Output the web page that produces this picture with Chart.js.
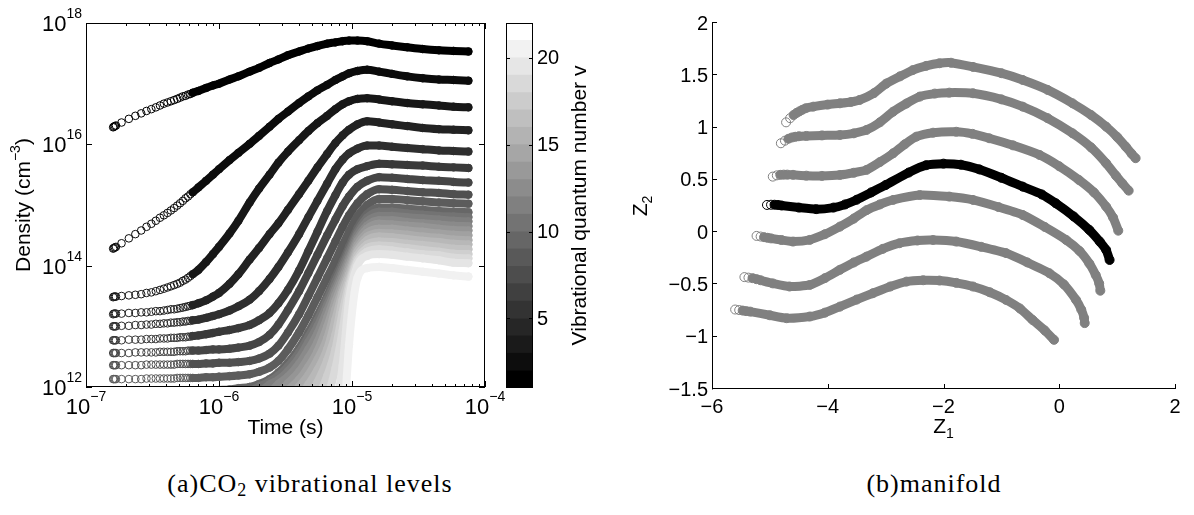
<!DOCTYPE html>
<html>
<head>
<meta charset="utf-8">
<script src="https://cdn.jsdelivr.net/npm/chart.js@4.4.1/dist/chart.umd.min.js"></script>
<style>
  html, body { margin: 0; padding: 0; background: #fff; }
  body { width: 1194px; height: 515px; position: relative; overflow: hidden; }
  canvas { position: absolute; top: 0; }
  .caption { position: absolute; top: 469px; font-family: "Liberation Serif", "DejaVu Serif", serif;
             font-size: 26px; letter-spacing: 1px; color: #000; white-space: nowrap; transform: translateX(-50%); }
  .caption sub { font-size: 18px; vertical-align: -4px; }
</style>
</head>
<body>
<canvas id="levels" width="520" height="450" style="left:0"></canvas>
<canvas id="colorbar" width="105" height="450" style="left:495px"></canvas>
<canvas id="manifold" width="594" height="450" style="left:600px"></canvas>
<div class="caption" style="left:310px">(a)CO<sub>2</sub> vibrational levels</div>
<div class="caption" style="left:934px">(b)manifold</div>
<script>
// ---- (a) CO2 vibrational levels: time grid (s) and densities (cm^-3) per level v ----
const timeS = [1.6e-7, 1.62e-7, 1.65e-7, 1.68e-7, 1.85e-7, 2.1e-7, 2.35e-7, 2.6e-7, 2.85e-7, 3.1e-7,
  3.35e-7, 3.6e-7, 3.85e-7, 4.1e-7, 4.35e-7, 4.6e-7, 4.85e-7, 5.1e-7, 5.35e-7, 5.6e-7,
  5.85e-7, 6.1e-7, 6.35e-7, 7e-7, 8e-7, 9e-7, 1e-6, 1.2e-6, 1.4e-6, 1.7e-6,
  2e-6, 2.4e-6, 2.8e-6, 3.3e-6, 4e-6, 4.7e-6, 5.5e-6, 6.5e-6, 7.5e-6, 8.5e-6,
  9.5e-6, 1.1e-5, 1.3e-5, 1.6e-5, 2e-5, 2.6e-5, 3.4e-5, 4.5e-5, 5.8e-5, 7.5e-5];

// levels that are still below the plotted range at early times
const below = n => Array(n).fill(null);

const v1 = [1.91e16, 1.95e16, 2.0e16, 2.04e16, 2.29e16, 2.63e16, 2.95e16, 3.24e16, 3.55e16, 3.8e16,
  4.07e16, 4.37e16, 4.68e16, 4.9e16, 5.13e16, 5.37e16, 5.62e16, 5.89e16, 6.17e16, 6.31e16,
  6.61e16, 6.76e16, 7.08e16, 7.59e16, 8.51e16, 9.33e16, 1.0e17, 1.17e17, 1.32e17, 1.58e17,
  1.82e17, 2.19e17, 2.51e17, 2.95e17, 3.39e17, 3.8e17, 4.17e17, 4.57e17, 4.79e17, 5.01e17,
  5.13e17, 5.13e17, 5.01e17, 4.57e17, 4.27e17, 3.98e17, 3.72e17, 3.55e17, 3.47e17, 3.39e17];
const v2 = [1.91e14, 1.95e14, 2.0e14, 2.04e14, 2.34e14, 2.82e14, 3.31e14, 3.8e14, 4.37e14, 4.9e14,
  5.5e14, 6.17e14, 6.76e14, 7.41e14, 8.13e14, 8.91e14, 9.77e14, 1.07e15, 1.17e15, 1.29e15,
  1.38e15, 1.51e15, 1.62e15, 1.95e15, 2.51e15, 3.16e15, 3.89e15, 5.5e15, 7.24e15, 1.02e16,
  1.38e16, 1.95e16, 2.63e16, 3.47e16, 4.79e16, 6.17e16, 7.76e16, 9.55e16, 1.15e17, 1.32e17,
  1.48e17, 1.62e17, 1.7e17, 1.58e17, 1.45e17, 1.32e17, 1.23e17, 1.17e17, 1.15e17, 1.12e17];
const v3 = [3.02e13, 3.09e13, 3.09e13, 3.09e13, 3.16e13, 3.24e13, 3.31e13, 3.39e13, 3.55e13, 3.63e13,
  3.8e13, 3.98e13, 4.17e13, 4.37e13, 4.57e13, 4.79e13, 5.01e13, 5.25e13, 5.62e13, 5.89e13,
  6.31e13, 6.76e13, 7.24e13, 8.51e13, 1.15e14, 1.55e14, 2.04e14, 3.39e14, 5.5e14, 1.1e15,
  1.86e15, 3.16e15, 5.01e15, 7.59e15, 1.17e16, 1.66e16, 2.24e16, 2.95e16, 3.8e16, 4.57e16,
  5.13e16, 5.62e16, 5.75e16, 5.5e16, 5.13e16, 4.79e16, 4.57e16, 4.37e16, 4.17e16, 4.07e16];
const v4 = [1.58e13, 1.62e13, 1.62e13, 1.62e13, 1.62e13, 1.66e13, 1.66e13, 1.7e13, 1.7e13, 1.74e13,
  1.78e13, 1.78e13, 1.82e13, 1.86e13, 1.91e13, 1.91e13, 1.95e13, 2.0e13, 2.04e13, 2.09e13,
  2.14e13, 2.19e13, 2.24e13, 2.4e13, 2.69e13, 3.09e13, 3.55e13, 5.01e13, 7.24e13, 1.26e14,
  1.95e14, 3.31e14, 5.01e14, 8.32e14, 1.51e15, 2.51e15, 4.17e15, 6.92e15, 1.05e16, 1.41e16,
  1.74e16, 2.14e16, 2.4e16, 2.29e16, 2.14e16, 2.0e16, 1.86e16, 1.78e16, 1.74e16, 1.7e16];
const v5 = [1.0e13, 1.0e13, 1.0e13, 1.0e13, 1.02e13, 1.02e13, 1.05e13, 1.05e13, 1.07e13, 1.07e13,
  1.1e13, 1.1e13, 1.12e13, 1.12e13, 1.15e13, 1.15e13, 1.17e13, 1.17e13, 1.2e13, 1.2e13,
  1.23e13, 1.23e13, 1.26e13, 1.29e13, 1.38e13, 1.48e13, 1.58e13, 1.82e13, 2.14e13, 2.75e13,
  3.8e13, 6.03e13, 9.55e13, 1.66e14, 3.31e14, 6.31e14, 1.17e15, 2.24e15, 3.89e15, 5.62e15,
  7.08e15, 8.51e15, 9.55e15, 9.55e15, 9.12e15, 8.71e15, 8.32e15, 7.94e15, 7.76e15, 7.59e15];
const v6 = [5.89e12, 5.89e12, 5.89e12, 5.89e12, 5.89e12, 6.03e12, 6.03e12, 6.03e12, 6.17e12, 6.17e12,
  6.17e12, 6.31e12, 6.31e12, 6.31e12, 6.46e12, 6.46e12, 6.46e12, 6.61e12, 6.61e12, 6.61e12,
  6.76e12, 6.76e12, 6.92e12, 7.08e12, 7.41e12, 7.76e12, 8.13e12, 8.71e12, 9.33e12, 1.05e13,
  1.26e13, 1.66e13, 2.4e13, 3.98e13, 8.32e13, 1.74e14, 3.63e14, 7.94e14, 1.45e15, 2.34e15,
  3.16e15, 3.89e15, 4.37e15, 4.79e15, 4.68e15, 4.57e15, 4.47e15, 4.27e15, 4.17e15, 4.07e15];
const v7 = [3.63e12, 3.63e12, 3.63e12, 3.63e12, 3.63e12, 3.63e12, 3.72e12, 3.72e12, 3.72e12, 3.72e12,
  3.72e12, 3.8e12, 3.8e12, 3.8e12, 3.8e12, 3.8e12, 3.89e12, 3.89e12, 3.89e12, 3.89e12,
  3.98e12, 3.98e12, 3.98e12, 3.98e12, 4.07e12, 4.17e12, 4.17e12, 4.27e12, 4.47e12, 4.79e12,
  5.5e12, 7.24e12, 1.07e13, 1.86e13, 3.8e13, 7.59e13, 1.51e14, 3.16e14, 5.75e14, 9.55e14,
  1.38e15, 2.0e15, 2.51e15, 2.88e15, 2.82e15, 2.69e15, 2.57e15, 2.51e15, 2.4e15, 2.34e15];
const v8 = [2.29e12, 2.29e12, 2.29e12, 2.29e12, 2.29e12, 2.29e12, 2.29e12, 2.29e12, 2.34e12, 2.34e12,
  2.34e12, 2.34e12, 2.34e12, 2.34e12, 2.34e12, 2.34e12, 2.4e12, 2.4e12, 2.4e12, 2.4e12,
  2.4e12, 2.4e12, 2.4e12, 2.4e12, 2.45e12, 2.45e12, 2.51e12, 2.51e12, 2.57e12, 2.69e12,
  2.95e12, 3.55e12, 4.79e12, 7.94e12, 1.58e13, 3.16e13, 6.31e13, 1.32e14, 2.51e14, 4.37e14,
  6.76e14, 1.07e15, 1.51e15, 1.82e15, 1.78e15, 1.7e15, 1.62e15, 1.58e15, 1.51e15, 1.48e15];
const v9 = [1.35e12, 1.35e12, 1.35e12, 1.35e12, 1.35e12, 1.35e12, 1.35e12, 1.35e12, 1.38e12, 1.38e12,
  1.38e12, 1.38e12, 1.38e12, 1.38e12, 1.38e12, 1.38e12, 1.41e12, 1.41e12, 1.41e12, 1.41e12,
  1.41e12, 1.41e12, 1.41e12, 1.41e12, 1.45e12, 1.45e12, 1.48e12, 1.51e12, 1.55e12, 1.62e12,
  1.78e12, 2.09e12, 2.69e12, 4.17e12, 7.94e12, 1.51e13, 3.02e13, 6.31e13, 1.2e14, 2.19e14,
  3.63e14, 6.61e14, 1.0e15, 1.26e15, 1.26e15, 1.2e15, 1.15e15, 1.1e15, 1.07e15, 1.05e15];
const v10 = [...below(26), 8.91e11, 9.12e11, 9.55e11, 1.0e12, 1.12e12, 1.35e12, 1.74e12, 2.51e12, 4.37e12, 7.94e12,
  1.51e13, 3.16e13, 6.46e13, 1.17e14, 2.04e14, 4.17e14, 7.08e14, 9.12e14, 9.12e14, 8.71e14, 8.32e14, 7.94e14, 7.76e14, 7.59e14];
const v11 = [...below(29), 8.51e11, 1.02e12, 1.23e12, 1.55e12, 2.19e12, 3.72e12, 6.76e12, 1.26e13, 2.75e13, 5.5e13,
  1.02e14, 1.78e14, 3.63e14, 6.17e14, 7.76e14, 7.76e14, 7.24e14, 6.92e14, 6.61e14, 6.46e14, 6.31e14];
const v12 = [...below(30), 7.94e11, 1.1e12, 1.32e12, 1.82e12, 3.02e12, 5.5e12, 1.0e13, 2.24e13, 4.57e13, 8.71e13,
  1.55e14, 3.24e14, 5.37e14, 6.61e14, 6.61e14, 6.31e14, 6.03e14, 5.75e14, 5.5e14, 5.37e14];
const v13 = [...below(31), 7.94e11, 1.12e12, 1.48e12, 2.4e12, 4.17e12, 7.59e12, 1.82e13, 3.89e13, 7.41e13, 1.32e14,
  2.82e14, 4.57e14, 5.62e14, 5.62e14, 5.25e14, 5.01e14, 4.79e14, 4.57e14, 4.47e14];
const v14 = [...below(32), 7.94e11, 1.15e12, 1.78e12, 3.02e12, 5.5e12, 1.38e13, 3.24e13, 6.31e13, 1.15e14, 2.51e14,
  4.07e14, 4.9e14, 4.79e14, 4.57e14, 4.37e14, 4.07e14, 3.89e14, 3.8e14];
const v15 = [...below(33), 8.91e11, 1.32e12, 2.14e12, 3.89e12, 9.77e12, 2.57e13, 5.25e13, 9.77e13, 2.19e14, 3.47e14,
  4.07e14, 4.07e14, 3.8e14, 3.63e14, 3.39e14, 3.24e14, 3.16e14];
const v16 = [...below(33), 6.31e11, 1.02e12, 1.58e12, 2.82e12, 6.31e12, 1.91e13, 4.37e13, 8.32e13, 1.91e14, 3.02e14,
  3.47e14, 3.39e14, 3.24e14, 3.02e14, 2.88e14, 2.69e14, 2.63e14];
const v17 = [...below(34), 6.31e11, 1.1e12, 1.91e12, 4.17e12, 1.29e13, 3.63e13, 7.08e13, 1.7e14, 2.63e14, 3.02e14,
  2.95e14, 2.75e14, 2.57e14, 2.45e14, 2.29e14, 2.24e14];
const v18 = [...below(35), 6.31e11, 1.2e12, 2.75e12, 7.24e12, 2.75e13, 5.89e13, 1.48e14, 2.24e14, 2.51e14, 2.45e14,
  2.29e14, 2.19e14, 2.04e14, 1.91e14, 1.86e14];
const v19 = [...below(36), 6.31e11, 1.51e12, 4.17e12, 1.7e13, 4.9e13, 1.29e14, 1.95e14, 2.14e14, 2.09e14, 1.95e14,
  1.82e14, 1.7e14, 1.58e14, 1.55e14];
const v20 = [...below(37), 6.31e11, 2.0e12, 8.51e12, 3.89e13, 1.15e14, 1.7e14, 1.86e14, 1.78e14, 1.66e14, 1.55e14,
  1.48e14, 1.35e14, 1.32e14];
const v21 = [...below(38), 3.98e11, 2.24e12, 2.75e13, 1.0e14, 1.45e14, 1.55e14, 1.51e14, 1.41e14, 1.32e14, 1.23e14,
  1.12e14, 1.1e14];
const v22 = [...below(39), 1.0e11, 5.01e12, 6.31e13, 9.12e13, 9.55e13, 9.12e13, 8.51e13, 7.94e13, 7.41e13, 6.92e13, 6.61e13];

const levelSeries = [v1, v2, v3, v4, v5, v6, v7, v8, v9, v10, v11, v12, v13, v14, v15, v16, v17, v18, v19, v20, v21, v22];
const timeTickExp = [-7, -6, -5, -4];
const densityTickExp = [12, 14, 16, 18];
const colorbarLevels = [1, 2, 3, 4, 5, 6, 7, 8, 9, 10, 11, 12, 13, 14, 15, 16, 17, 18, 19, 20, 21];
const colorbarTicks = [5, 10, 15, 20];

// ---- (b) manifold: Z1 / Z2 coordinates of the seven trajectories ----
const traj1Z1 = [-4.72, -4.65, -4.59, -4.54, -4.49, -4.44, -4.38, -4.25, -4.0, -3.79, -3.6, -3.45, -3.2, -2.99, -2.75, -2.53, -2.3, -2.07, -1.87, -1.49, -1.0, -0.63, -0.2, 0.23, 0.55, 0.81, 1.0, 1.15, 1.25, 1.32];
const traj1Z2 = [1.05, 1.09, 1.12, 1.14, 1.155, 1.17, 1.185, 1.2, 1.22, 1.232, 1.245, 1.264, 1.33, 1.42, 1.49, 1.55, 1.59, 1.615, 1.62, 1.58, 1.52, 1.455, 1.36, 1.232, 1.12, 1.009, 0.91, 0.817, 0.75, 0.707];
const traj2Z1 = [-4.81, -4.74, -4.68, -4.62, -4.56, -4.5, -4.37, -4.1, -3.79, -3.55, -3.33, -3.1, -2.87, -2.64, -2.41, -2.15, -1.9, -1.49, -1.0, -0.63, -0.2, 0.23, 0.55, 0.81, 0.98, 1.09, 1.2];
const traj2Z2 = [0.85, 0.875, 0.893, 0.905, 0.912, 0.917, 0.92, 0.925, 0.929, 0.945, 0.977, 1.05, 1.152, 1.23, 1.296, 1.325, 1.334, 1.328, 1.27, 1.2, 1.09, 0.945, 0.81, 0.659, 0.54, 0.467, 0.397];
const traj3Z1 = [-4.95, -4.88, -4.82, -4.76, -4.7, -4.6, -4.37, -4.1, -3.79, -3.55, -3.33, -3.1, -2.87, -2.67, -2.47, -2.18, -1.78, -1.5, -1.21, -0.8, -0.34, 0.0, 0.34, 0.6, 0.81, 0.93, 1.02];
const traj3Z2 = [0.531, 0.543, 0.548, 0.55, 0.55, 0.548, 0.54, 0.538, 0.547, 0.568, 0.595, 0.67, 0.754, 0.84, 0.913, 0.951, 0.96, 0.94, 0.898, 0.83, 0.738, 0.63, 0.499, 0.38, 0.244, 0.14, 0.014];
const traj4Z1 = [-5.05, -4.98, -4.92, -4.86, -4.8, -4.5, -4.2, -3.9, -3.7, -3.5, -3.25, -3.0, -2.6, -2.3, -2.0, -1.7, -1.38, -1.0, -0.63, -0.3, -0.06, 0.25, 0.52, 0.7, 0.81, 0.87];
const traj4Z2 = [0.26, 0.262, 0.262, 0.26, 0.255, 0.235, 0.22, 0.235, 0.265, 0.31, 0.38, 0.45, 0.57, 0.64, 0.655, 0.645, 0.6, 0.52, 0.435, 0.36, 0.276, 0.15, 0.021, -0.09, -0.17, -0.266];
const traj5Z1 = [-5.23, -5.16, -5.1, -5.04, -4.98, -4.8, -4.6, -4.31, -4.05, -3.79, -3.55, -3.33, -3.1, -2.87, -2.41, -1.9, -1.49, -1.05, -0.63, -0.25, 0.12, 0.35, 0.52, 0.63, 0.69, 0.71];
const traj5Z2 = [-0.036, -0.042, -0.048, -0.054, -0.06, -0.075, -0.09, -0.074, -0.02, 0.053, 0.13, 0.21, 0.265, 0.308, 0.355, 0.34, 0.308, 0.24, 0.164, 0.05, -0.075, -0.18, -0.3, -0.41, -0.49, -0.56];
const traj6Z1 = [-5.44, -5.37, -5.3, -5.23, -5.16, -4.95, -4.66, -4.31, -4.05, -3.79, -3.55, -3.33, -3.05, -2.76, -2.45, -2.18, -1.78, -1.35, -0.92, -0.55, -0.17, 0.08, 0.29, 0.38, 0.43, 0.44];
const traj6Z2 = [-0.43, -0.435, -0.44, -0.45, -0.46, -0.49, -0.52, -0.505, -0.44, -0.36, -0.29, -0.234, -0.16, -0.106, -0.08, -0.075, -0.09, -0.14, -0.2, -0.29, -0.393, -0.5, -0.648, -0.74, -0.82, -0.87];
const traj7Z1 = [-5.6, -5.53, -5.47, -5.41, -5.34, -5.0, -4.71, -4.31, -4.05, -3.79, -3.5, -3.22, -2.92, -2.64, -2.35, -2.07, -1.78, -1.49, -1.2, -0.92, -0.68, -0.46, -0.25, -0.09];
const traj7Z2 = [-0.74, -0.745, -0.75, -0.755, -0.76, -0.795, -0.823, -0.807, -0.77, -0.712, -0.645, -0.584, -0.52, -0.473, -0.46, -0.463, -0.485, -0.52, -0.575, -0.648, -0.73, -0.84, -0.94, -1.03];
const trajectories = [[traj1Z1, traj1Z2], [traj2Z1, traj2Z2], [traj3Z1, traj3Z2], [traj4Z1, traj4Z2],
  [traj5Z1, traj5Z2], [traj6Z1, traj6Z2], [traj7Z1, traj7Z2]];
const highlighted = 3; // the black trajectory
const z1Ticks = [-6, -4, -2, 0, 2];
const z2Ticks = [-1.5, -1, -0.5, 0, 0.5, 1, 1.5, 2];

// ---- drawing helpers ----
const SANS = '"Liberation Sans", Arial, Helvetica, sans-serif';
const CLEAR = 'rgba(0,0,0,0)';
const minus = s => String(s).replace('-', '\u2212');

function runsWidth(ctx, runs) {
  let w = 0;
  runs.forEach(r => { ctx.font = r.size + 'px ' + SANS; w += ctx.measureText(r.text).width; });
  return w;
}

// draw a row of text pieces (for superscripts / subscripts)
function drawRuns(ctx, runs, x, y, align) {
  const w = runsWidth(ctx, runs);
  let cx = align === 'center' ? x - w / 2 : align === 'right' ? x - w : x;
  ctx.textAlign = 'left';
  ctx.textBaseline = 'middle';
  ctx.fillStyle = '#000';
  runs.forEach(r => {
    ctx.font = r.size + 'px ' + SANS;
    ctx.fillText(r.text, cx, y + (r.dy || 0));
    cx += ctx.measureText(r.text).width;
  });
}

function drawRotated(ctx, runs, x, y) {
  ctx.save();
  ctx.translate(x, y);
  ctx.rotate(-Math.PI / 2);
  drawRuns(ctx, runs, 0, 0, 'center');
  ctx.restore();
}

const pow10 = e => [{ text: '10', size: 22 }, { text: minus(e), size: 14, dy: -11 }];

function tick(ctx, x1, y1, x2, y2) {
  ctx.moveTo(x1, y1);
  ctx.lineTo(x2, y2);
}

const levelAxes = {
  id: 'levelAxes',
  afterDraw(chart) {
    const { ctx, chartArea: a, scales: { x, y } } = chart;
    ctx.save();
    ctx.strokeStyle = '#000';
    ctx.lineWidth = 1;
    ctx.strokeRect(a.left + 0.5, a.top + 0.5, a.right - a.left - 1, a.bottom - a.top - 1);
    ctx.beginPath();
    timeTickExp.forEach(e => {
      const px = Math.round(x.getPixelForValue(Math.pow(10, e))) + 0.5;
      tick(ctx, px, a.bottom, px, a.bottom - 6);
      tick(ctx, px, a.top, px, a.top + 6);
      if (e < timeTickExp[timeTickExp.length - 1]) {
        for (let k = 2; k <= 9; k++) {
          const m = Math.round(x.getPixelForValue(k * Math.pow(10, e))) + 0.5;
          tick(ctx, m, a.bottom, m, a.bottom - 3);
          tick(ctx, m, a.top, m, a.top + 3);
        }
      }
    });
    densityTickExp.forEach(e => {
      const py = Math.round(y.getPixelForValue(Math.pow(10, e))) + 0.5;
      tick(ctx, a.left, py, a.left + 6, py);
      tick(ctx, a.right, py, a.right - 6, py);
    });
    ctx.stroke();
    timeTickExp.forEach(e => {
      drawRuns(ctx, pow10(e), x.getPixelForValue(Math.pow(10, e)), a.bottom + 21, 'center');
    });
    densityTickExp.forEach(e => {
      drawRuns(ctx, pow10(e), a.left - 4, y.getPixelForValue(Math.pow(10, e)) + 2, 'right');
    });
    drawRuns(ctx, [{ text: 'Time (s)', size: 21 }], (a.left + a.right) / 2, 428, 'center');
    drawRotated(ctx, [{ text: 'Density (cm', size: 21 }, { text: '\u22123', size: 14, dy: -8 },
      { text: ')', size: 21 }], 24, (a.top + a.bottom) / 2);
    ctx.restore();
  }
};

const colorbarAxes = {
  id: 'colorbarAxes',
  afterDraw(chart) {
    const { ctx, chartArea: a, scales: { y } } = chart;
    ctx.save();
    ctx.strokeStyle = '#000';
    ctx.lineWidth = 1;
    ctx.strokeRect(a.left + 0.5, a.top + 0.5, a.right - a.left - 1, a.bottom - a.top - 1);
    ctx.beginPath();
    colorbarTicks.forEach(t => {
      const py = Math.round(y.getPixelForValue(t)) + 0.5;
      tick(ctx, a.right, py, a.right - 4, py);
      tick(ctx, a.left, py, a.left + 4, py);
    });
    ctx.stroke();
    colorbarTicks.forEach(t => {
      drawRuns(ctx, [{ text: String(t), size: 20 }], a.right + 4, y.getPixelForValue(t) + 1, 'left');
    });
    drawRotated(ctx, [{ text: 'Vibrational quantum number v', size: 21 }], 85, (a.top + a.bottom) / 2);
    ctx.restore();
  }
};

const manifoldAxes = {
  id: 'manifoldAxes',
  afterDraw(chart) {
    const { ctx, chartArea: a, scales: { x, y } } = chart;
    ctx.save();
    ctx.strokeStyle = '#000';
    ctx.lineWidth = 1;
    ctx.beginPath();
    tick(ctx, a.left + 0.5, a.top, a.left + 0.5, a.bottom + 0.5);
    tick(ctx, a.left, a.bottom - 0.5, a.right + 0.5, a.bottom - 0.5);
    z1Ticks.forEach(t => {
      const px = Math.round(x.getPixelForValue(t)) + 0.5;
      tick(ctx, px, a.bottom, px, a.bottom - 5);
    });
    z2Ticks.forEach(t => {
      const py = Math.round(y.getPixelForValue(t)) - 0.5;
      tick(ctx, a.left, py, a.left + 5, py);
    });
    ctx.stroke();
    z1Ticks.forEach(t => {
      drawRuns(ctx, [{ text: minus(t), size: 20 }], x.getPixelForValue(t), a.bottom + 18, 'center');
    });
    z2Ticks.forEach(t => {
      drawRuns(ctx, [{ text: minus(t), size: 20 }], a.left - 4, y.getPixelForValue(t) + 1, 'right');
    });
    drawRuns(ctx, [{ text: 'Z', size: 21 }, { text: '1', size: 14, dy: 7 }], (a.left + a.right) / 2, 427, 'center');
    drawRotated(ctx, [{ text: 'Z', size: 21 }, { text: '2', size: 14, dy: 7 }], 41, (a.top + a.bottom) / 2);
    ctx.restore();
  }
};

const quiet = { legend: { display: false }, tooltip: { enabled: false } };
const grayOf = v => {
  const g = Math.round(255 * Math.min(0.945, (v - 1) * 0.045));
  return 'rgb(' + g + ',' + g + ',' + g + ')';
};

// ---- (a) density vs time ----
const DENSE_FROM = 22; // from here on the circles overlap into a solid band
new Chart(document.getElementById('levels'), {
  type: 'scatter',
  data: {
    datasets: levelSeries.map((vals, i) => {
      const v = i + 1;
      const c = grayOf(v);
      return {
        label: 'v = ' + v,
        data: vals.map((d, k) => ({ x: timeS[k], y: d })),
        showLine: true,
        cubicInterpolationMode: 'monotone',
        borderColor: c,
        borderWidth: 8,
        borderCapStyle: 'round',
        borderJoinStyle: 'round',
        pointStyle: 'circle',
        pointRadius: 3.8,
        pointHoverRadius: 3.8,
        pointBorderWidth: 1,
        pointBorderColor: c,
        pointBackgroundColor: CLEAR,
        clip: 0,
        order: -v,
        segment: { borderColor: ctx => (ctx.p0DataIndex >= DENSE_FROM ? c : CLEAR) }
      };
    })
  },
  options: {
    responsive: false,
    animation: false,
    devicePixelRatio: 1,
    events: [],
    plugins: quiet,
    layout: { padding: { left: 86, right: 35, top: 23, bottom: 63 } },
    scales: {
      x: { type: 'logarithmic', min: 1e-7, max: 1e-4, display: false },
      y: { type: 'logarithmic', min: 1e12, max: 1e18, display: false }
    }
  },
  plugins: [levelAxes]
});

// ---- colorbar ----
new Chart(document.getElementById('colorbar'), {
  type: 'bar',
  data: {
    labels: ['v'],
    datasets: colorbarLevels.map((lv, k) => {
      const g = Math.round(255 * k / 20);
      return {
        data: [[lv, lv + 1]],
        backgroundColor: 'rgb(' + g + ',' + g + ',' + g + ')',
        borderWidth: 0,
        grouped: false,
        barPercentage: 1,
        categoryPercentage: 1
      };
    })
  },
  options: {
    responsive: false,
    animation: false,
    devicePixelRatio: 1,
    events: [],
    plugins: quiet,
    layout: { padding: { left: 11, right: 67, top: 23, bottom: 62 } },
    scales: {
      x: { display: false },
      y: { display: false, min: 1, max: 22 }
    }
  },
  plugins: [colorbarAxes]
});

// ---- (b) manifold ----
const TRAJ_DENSE_FROM = 2;
new Chart(document.getElementById('manifold'), {
  type: 'scatter',
  data: {
    datasets: trajectories.map(([zx, zy], i) => {
      const c = i === highlighted ? '#000' : 'rgb(128,128,128)';
      return {
        label: 'trajectory ' + (i + 1),
        data: zx.map((v, k) => ({ x: v, y: zy[k] })),
        showLine: true,
        borderColor: c,
        borderWidth: 9,
        borderCapStyle: 'round',
        borderJoinStyle: 'round',
        tension: 0.2,
        pointRadius: 4.5,
        pointHoverRadius: 4.5,
        pointBorderWidth: 1,
        pointBorderColor: c,
        pointBackgroundColor: CLEAR,
        segment: { borderColor: ctx => (ctx.p0DataIndex >= TRAJ_DENSE_FROM ? c : CLEAR) }
      };
    })
  },
  options: {
    responsive: false,
    animation: false,
    devicePixelRatio: 1,
    events: [],
    plugins: quiet,
    layout: { padding: { left: 112, right: 19, top: 23, bottom: 61 } },
    scales: {
      x: { type: 'linear', min: -6, max: 2, display: false },
      y: { type: 'linear', min: -1.5, max: 2, display: false }
    }
  },
  plugins: [manifoldAxes]
});
</script>
</body>
</html>
